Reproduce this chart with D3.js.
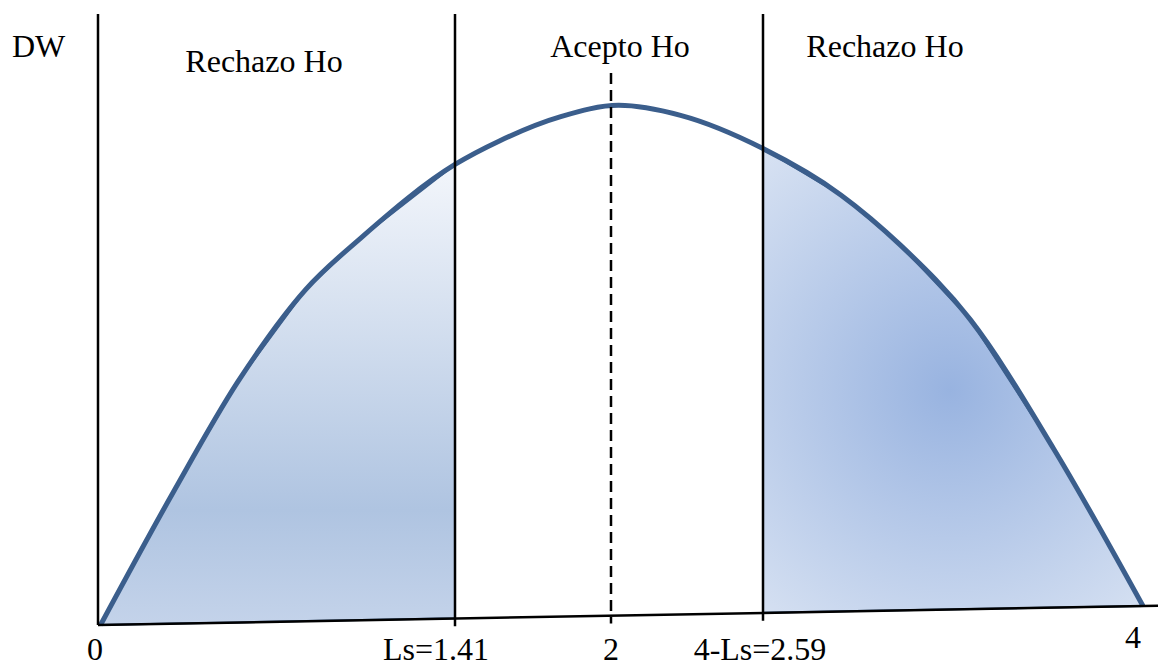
<!DOCTYPE html>
<html>
<head>
<meta charset="utf-8">
<script src="https://cdn.jsdelivr.net/npm/d3@7"></script>
<style>
  body { margin: 0; background: #fff; }
  svg text { font-family: "Liberation Serif", "Times New Roman", serif; fill: #000; }
</style>
</head>
<body>
<svg id="chart" width="1158" height="668"></svg>
<script>
// DW statistic positions and the density shape
var tickValues = [0, 1.41, 2, 2.59, 4];
var tickLabels = ["0", "Ls=1.41", "2", "4-Ls=2.59", "4"];
var curveDW = [0.01, 0.30, 0.55, 0.82, 1.04, 1.41, 1.58, 1.81, 2.03, 2.27, 2.59, 2.88, 3.10, 3.36, 3.67, 4.0];
var curveF  = [0.0, 0.26, 0.47, 0.65, 0.75, 0.89, 0.935, 0.98, 1.0, 0.978, 0.91, 0.816, 0.716, 0.567, 0.31, 0.0];
var regions = ["Rechazo Ho", "Acepto Ho", "Rechazo Ho"];
var lowerLimit = 1.41, upperLimit = 2.59;

var svg = d3.select("#chart");

var x = d3.scaleLinear().domain(tickValues).range([98, 455, 611, 763, 1143]);
// the drawn base line is slightly tilted
var base = d3.scaleLinear().domain([0, 4]).range([625, 606]);
var h = d3.scaleLinear().domain([0, 1]).range([0, 510]);

var pts = curveDW.map(function (d, i) { return { dw: d, f: curveF[i] }; });
function px(d) { return x(d.dw); }
function py(d) { return base(d.dw) - h(d.f); }

var defs = svg.append("defs");
var lg = defs.append("linearGradient").attr("id", "leftFill")
  .attr("x1", 0).attr("y1", 0).attr("x2", 0).attr("y2", 1);
lg.append("stop").attr("offset", "0%").attr("stop-color", "#f3f6fb");
lg.append("stop").attr("offset", "75%").attr("stop-color", "#afc4e1");
lg.append("stop").attr("offset", "100%").attr("stop-color", "#c4d3ea");

var rg = defs.append("radialGradient").attr("id", "rightFill")
  .attr("gradientUnits", "userSpaceOnUse")
  .attr("cx", 950).attr("cy", 390).attr("r", 330);
rg.append("stop").attr("offset", "0%").attr("stop-color", "#98b3e0");
rg.append("stop").attr("offset", "100%").attr("stop-color", "#dde6f4");

// interpolate curve height at the limits so the fill edges meet the curve
function fAt(v) {
  var i = d3.bisector(function (d) { return d.dw; }).left(pts, v);
  if (i <= 0) return pts[0].f;
  var a = pts[i - 1], b = pts[i];
  return a.f + (b.f - a.f) * (v - a.dw) / (b.dw - a.dw);
}

var area = d3.area()
  .x(px)
  .y0(function (d) { return base(d.dw); })
  .y1(py);

var leftPts = pts.filter(function (d) { return d.dw < lowerLimit; }).concat([{ dw: lowerLimit, f: fAt(lowerLimit) }]);
var rightPts = [{ dw: upperLimit, f: fAt(upperLimit) }].concat(pts.filter(function (d) { return d.dw > upperLimit; }));

svg.append("path").datum(leftPts).attr("d", area)
  .attr("fill", "url(#leftFill)").attr("stroke", "#3b5e8c").attr("stroke-width", 2);
svg.append("path").datum(rightPts).attr("d", area)
  .attr("fill", "url(#rightFill)").attr("stroke", "#3b5e8c").attr("stroke-width", 2);

// density curve
var line = d3.line().x(px).y(py).curve(d3.curveMonotoneX);
svg.append("path").datum(pts)
  .attr("d", line)
  .attr("fill", "none")
  .attr("stroke", "#3b5e8c")
  .attr("stroke-width", 5);

// base line
svg.append("line")
  .attr("x1", x(0)).attr("y1", base(0))
  .attr("x2", 1158).attr("y2", base(0) + (1158 - x(0)) * (base(4) - base(0)) / (x(4) - x(0)))
  .attr("stroke", "#000").attr("stroke-width", 2.5);

// vertical axis and region limits
svg.append("line")
  .attr("x1", x(0)).attr("x2", x(0)).attr("y1", 14).attr("y2", base(0))
  .attr("stroke", "#000").attr("stroke-width", 2.5);
[lowerLimit, upperLimit].forEach(function (v) {
  svg.append("line")
    .attr("x1", x(v)).attr("x2", x(v)).attr("y1", 14).attr("y2", base(v) + 8)
    .attr("stroke", "#000").attr("stroke-width", 2.5);
});
svg.append("line")
  .attr("x1", x(2)).attr("x2", x(2)).attr("y1", 73).attr("y2", base(2) + 8)
  .attr("stroke", "#000").attr("stroke-width", 2.5)
  .attr("stroke-dasharray", "11,6");

// tick labels
svg.selectAll(".tick-label")
  .data(tickValues)
  .enter().append("text")
  .attr("class", "tick-label")
  .attr("x", function (d, i) { return x(d) + [-3, -19, 0, -3, -10][i]; })
  .attr("y", function (d, i) { return i === 4 ? 648 : 660; })
  .attr("text-anchor", "middle")
  .attr("font-size", 32)
  .text(function (d, i) { return tickLabels[i]; });

// region labels
svg.append("text").attr("x", 12).attr("y", 57).attr("font-size", 32).text("DW");
var regionPos = [[264, 72], [620, 57], [885, 57]];
svg.selectAll(".region")
  .data(regions)
  .enter().append("text")
  .attr("class", "region")
  .attr("x", function (d, i) { return regionPos[i][0]; })
  .attr("y", function (d, i) { return regionPos[i][1]; })
  .attr("text-anchor", "middle")
  .attr("font-size", 32)
  .text(function (d) { return d; });
</script>
</body>
</html>
